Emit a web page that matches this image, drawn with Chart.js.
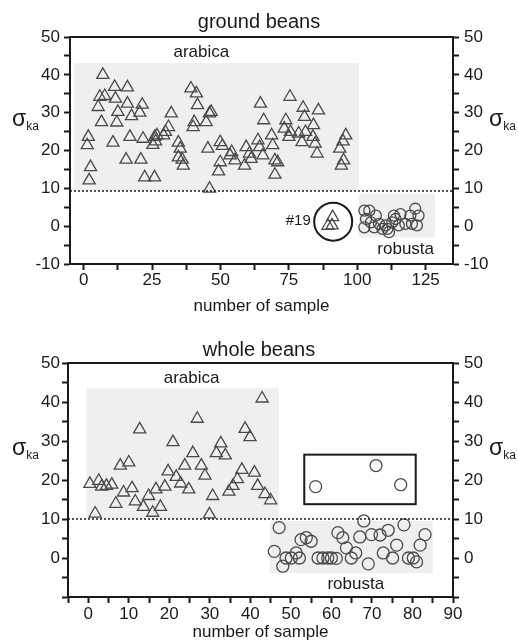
<!DOCTYPE html>
<html>
<head>
<meta charset="utf-8">
<script src="https://cdn.jsdelivr.net/npm/chart.js@4"></script>
<style>
  body { margin: 0; background: #fff; }
  canvas { display: block; }
</style>
</head>
<body>
<canvas id="ground" width="518" height="322"></canvas>
<canvas id="whole" width="518" height="321"></canvas>
<script>
// ground beans (sample number, sigma_ka)
const groundArabicaX = [7, 11.3, 16, 5.9, 7.7, 11.6, 5.3, 16, 21.4, 12.5, 20.5, 17.5, 6.5, 12.1, 1.7, 1.3, 10.7, 16.9, 21.7, 26, 25.3, 2.5, 2, 15.5, 20.9, 22.3, 25.9,
  32, 31, 29.9, 29.2, 26.8, 26.3, 34.6, 35.3, 34.6, 36, 36.4, 39.2, 41.2, 41.6, 40.4, 40, 45.4, 46, 46, 44.8, 46.6,
  49.9, 50.7, 49.9, 49.3, 54.1, 53.5, 55.3, 58.8, 59.4, 60.6, 61.2, 63.7, 64.3, 65.5, 64.6, 65.8, 68.7, 69.1, 69.9, 70.9, 69.9,
  75.4, 73.9, 73.3, 75.6, 75, 80.2, 80.7, 81.1, 78.6, 79.8, 85.8, 84, 83.8, 84.6, 85.3, 95.8, 94.8, 93.6, 95, 94.2];
const groundArabicaY = [40, 36.8, 36.7, 34.2, 34.4, 33.7, 31.5, 32.4, 32.1, 30.2, 30, 29.1, 27.5, 27.4, 23.6, 21.4, 22.1, 23.6, 23.1, 23.6, 21.5, 15.6, 12.1, 17.6, 17.6, 12.9, 12.9,
  29.8, 26.2, 24.9, 24, 24, 22.4, 22.1, 20.5, 18.2, 17.6, 16, 36.4, 35.1, 32, 27.5, 26.2, 20.5, 9.9, 29.8, 27.5, 30.2,
  22.2, 21.2, 16.9, 14.5, 19.6, 18.7, 17.4, 16, 20.9, 19.2, 17.8, 22.7, 20.9, 18.7, 32.4, 28, 24, 21.4, 17.4, 16.9, 13.6,
  34.2, 28, 25.8, 24.9, 23.6, 31.3, 28.9, 24.9, 24.5, 22.2, 30.6, 26.7, 23.6, 21.8, 19.2, 24, 22.4, 20.5, 17.4, 16];
const groundRobustaX = [102.6, 104.4, 106.8, 103.2, 105, 108, 110.4, 102.6, 106.2, 109.2, 111.6, 111, 113.4, 115.8, 112.8, 115.2, 117.6, 119.4, 121.2, 122.4, 121.8, 120, 114];
const groundRobustaY = [4.1, 4.1, 2.8, 1.9, 1, 0.6, 0.2, -0.3, -0.3, -0.7, -1.6, -0.7, 2.8, 3.2, 1, 0.2, 0.6, 2.8, 4.6, 2.8, 0.2, 0.6, 1.9];
const sample19X = [91, 90.8, 89.3];
const sample19Y = [2.4, 0.2, 0.1];

// whole beans
const wholeArabicaX = [0.4, 2.6, 3.3, 4.5, 5.8, 1.7, 6.8, 8.7, 10.8, 7.9, 10, 11.6, 12.7, 13.6, 14.9, 15.9, 16.7, 17.8, 18.9, 19.7, 20.9, 21.7, 22.8,
  23.8, 24.8, 25.8, 26.9, 27.9, 28.8, 29.9, 30.7, 31.6, 32.7, 33.8, 34.7, 35.7, 36.8, 37.9, 38.7, 39.9, 41, 41.8, 42.9, 43.6, 45];
const wholeArabicaY = [19, 19.8, 18.3, 18.5, 18.8, 11.4, 13.9, 16.8, 17.9, 23.7, 24.5, 14.5, 33, 13.1, 15.9, 11.6, 17.6, 13.1, 18.3, 22.2, 29.7, 20.8, 19.1,
  23.7, 17.6, 26.9, 35.7, 23.7, 21.1, 11.2, 15.9, 26.9, 29.4, 26.3, 17, 18.5, 20.2, 22.6, 33.1, 31, 21.9, 18.5, 40.9, 16.4, 14.8];
const wholeRobustaX = [47.1, 45.9, 48, 48.8, 50.1, 51.3, 52.1, 52.5, 53.8, 55, 56.1, 56.7, 57.9, 59.1, 60, 61.2, 61.6, 62.8, 63.7, 64.9, 66, 67, 68,
  69.1, 69.9, 72, 71, 72.8, 74, 75.1, 76.1, 77.1, 77.9, 79, 80.2, 81, 81.9, 83.1];
const wholeRobustaY = [7.8, 1.7, -2.1, 0, 0, 1.3, 0, 4.7, 5.2, 4.3, 18.3, 0, 0, 0, 0, -0.1, 6.5, 5.2, 2.6, 0, 1.3, 5.4, 9.5,
  -1.5, 6, 5.9, 23.7, 1.3, 7.1, 0, 3.3, 18.8, 8.5, 0, 0, -1, 3.3, 6];

const FONT = '"Liberation Sans", Arial, sans-serif';
const INK = '#1a1a1a';
const MARK = '#4a4a4a';

function pts(xs, ys) {
  return xs.map((x, i) => ({x: x, y: ys[i]}));
}

function drawSigma(ctx, x, y) {
  ctx.fillStyle = INK;
  ctx.textAlign = 'left';
  ctx.textBaseline = 'alphabetic';
  ctx.font = '23px ' + FONT;
  ctx.fillText('σ', x, y);
  const w = ctx.measureText('σ').width;
  ctx.font = '12px ' + FONT;
  ctx.fillText('ka', x + w, y + 4);
}

// shaded group boxes, outlines and labels, all placed in data units
function decor(spec) {
  return {
    id: 'decor',
    beforeDatasetsDraw(chart) {
      const {ctx, scales: {x, y}} = chart;
      ctx.save();
      ctx.fillStyle = '#efefef';
      spec.boxes.forEach(b => {
        const x0 = x.getPixelForValue(b[0]), x1 = x.getPixelForValue(b[1]);
        const y0 = y.getPixelForValue(b[3]), y1 = y.getPixelForValue(b[2]);
        ctx.fillRect(x0, y0, x1 - x0, y1 - y0);
      });
      ctx.restore();
    },
    afterDatasetsDraw(chart) {
      const {ctx, scales: {x, y}} = chart;
      ctx.save();
      ctx.strokeStyle = INK;
      ctx.lineWidth = 2;
      (spec.frames || []).forEach(b => {
        const x0 = x.getPixelForValue(b[0]), x1 = x.getPixelForValue(b[1]);
        const y0 = y.getPixelForValue(b[3]), y1 = y.getPixelForValue(b[2]);
        ctx.strokeRect(x0, y0, x1 - x0, y1 - y0);
      });
      (spec.rings || []).forEach(r => {
        ctx.beginPath();
        ctx.arc(x.getPixelForValue(r[0]), y.getPixelForValue(r[1]), r[2], 0, Math.PI * 2);
        ctx.stroke();
      });
      ctx.fillStyle = INK;
      ctx.textBaseline = 'middle';
      spec.labels.forEach(l => {
        ctx.font = l.size + 'px ' + FONT;
        ctx.textAlign = l.align || 'center';
        ctx.fillText(l.text, x.getPixelForValue(l.x), y.getPixelForValue(l.y));
      });
      const sy = y.getPixelForValue(26.5);
      drawSigma(ctx, 12, sy);
      drawSigma(ctx, 489, sy);
      ctx.restore();
    }
  };
}

function yAxis(side, width, pad, hideLow) {
  return {
    type: 'linear',
    position: side,
    min: -10,
    max: 50,
    ticks: {
      stepSize: 5,
      autoSkip: false,
      padding: pad,
      color: INK,
      font: {family: FONT, size: 17},
      callback: v => (v % 10 === 0 && !(hideLow && v < 0)) ? v : ''
    },
    grid: {drawOnChartArea: false, tickLength: 6, tickWidth: 2, tickColor: INK},
    border: {width: 2, color: INK},
    afterFit: s => { s.width = width; }
  };
}

function makeChart(id, cfg) {
  return new Chart(document.getElementById(id), {
    type: 'scatter',
    data: {
      datasets: [
        {
          type: 'line',
          data: [{x: cfg.xMin, y: cfg.cut}, {x: cfg.xMax, y: cfg.cut}],
          borderColor: INK,
          borderWidth: 1.5,
          borderDash: [2, 2],
          pointRadius: 0
        },
        ...cfg.sets
      ]
    },
    options: {
      responsive: false,
      animation: false,
      events: [],
      layout: {padding: 0},
      plugins: {
        legend: {display: false},
        tooltip: {enabled: false},
        title: {
          display: true,
          text: cfg.title,
          color: INK,
          font: {family: FONT, size: 20, weight: 'normal'},
          padding: cfg.titlePad
        }
      },
      scales: {
        x: {
          type: 'linear',
          position: 'bottom',
          min: cfg.xMin,
          max: cfg.xMax,
          ticks: {
            stepSize: cfg.xStep / 2,
            includeBounds: false,
            autoSkip: false,
            maxRotation: 0,
            padding: cfg.xTickPad,
            color: INK,
            font: {family: FONT, size: 17},
            callback: v => v % cfg.xStep === 0 ? v : ''
          },
          grid: {drawOnChartArea: false, tickLength: 6, tickWidth: 2, tickColor: INK},
          border: {width: 2, color: INK},
          title: {
            display: true,
            text: 'number of sample',
            color: INK,
            font: {family: FONT, size: 17},
            padding: {top: 0, bottom: cfg.xTitlePad}
          },
          afterFit: s => { s.height = cfg.xHeight; }
        },
        x2: {
          type: 'linear',
          position: 'top',
          min: cfg.xMin,
          max: cfg.xMax,
          ticks: {display: false},
          grid: {display: false},
          border: {width: 2, color: INK},
          afterFit: s => { s.height = 0; }
        },
        y: yAxis('left', cfg.leftWidth, cfg.yPad, cfg.hideLow),
        y2: yAxis('right', 518 - 453, 5, cfg.hideLow)
      }
    },
    plugins: [decor(cfg.decor)]
  });
}

const tri = {pointStyle: 'triangle', pointRadius: 7, backgroundColor: 'rgba(0,0,0,0)', borderColor: MARK, borderWidth: 1.3};
const ring = {pointStyle: 'circle', backgroundColor: 'rgba(0,0,0,0)', borderColor: MARK, borderWidth: 1.3};

makeChart('ground', {
  title: 'ground beans',
  titlePad: {top: 10, bottom: 3},
  xMin: -5, xMax: 135, xStep: 25,
  xTickPad: 0, xTitlePad: 5, xHeight: 58,
  leftWidth: 70, yPad: 4, hideLow: false,
  cut: 9.3,
  sets: [
    {data: pts(groundArabicaX, groundArabicaY), ...tri},
    {data: pts(sample19X, sample19Y), ...tri},
    {data: pts(groundRobustaX, groundRobustaY), ...ring, pointRadius: 5.5}
  ],
  decor: {
    boxes: [[-3.6, 100.7, 9.3, 43.1], [100.6, 128.4, -3, 8.5]],
    rings: [[91.2, 1.2, 19]],
    labels: [
      {text: 'arabica', x: 43, y: 46, size: 17},
      {text: 'robusta', x: 117.7, y: -6, size: 17},
      {text: '#19', x: 83, y: 1.4, size: 15, align: 'right'}
    ]
  }
});

makeChart('whole', {
  title: 'whole beans',
  titlePad: {top: 16, bottom: 1},
  xMin: -5, xMax: 90, xStep: 10,
  xTickPad: 1, xTitlePad: 0, xHeight: 46,
  leftWidth: 68, yPad: 2, hideLow: true,
  cut: 10,
  sets: [
    {data: pts(wholeArabicaX, wholeArabicaY), ...tri},
    {data: pts(wholeRobustaX, wholeRobustaY), ...ring, pointRadius: 6}
  ],
  decor: {
    boxes: [[-0.4, 47, 10, 43.5], [44.8, 85, -3.9, 9.5]],
    frames: [[53.3, 80.8, 13.8, 26.5]],
    labels: [
      {text: 'arabica', x: 25.5, y: 46.1, size: 17},
      {text: 'robusta', x: 66, y: -6.8, size: 17}
    ]
  }
});
</script>
</body>
</html>
